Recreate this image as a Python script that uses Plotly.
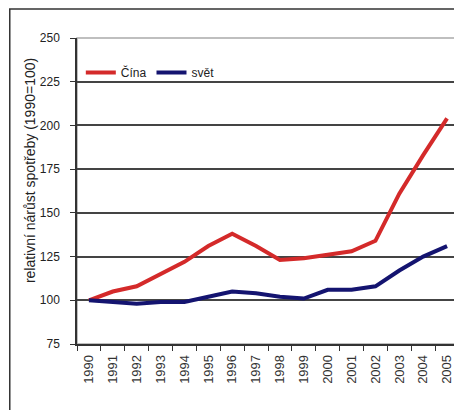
import plotly.graph_objects as go

years = [str(y) for y in range(1990, 2006)]
cina = [100, 105, 108, 115, 122, 131, 138, 131, 123, 124, 126, 128, 134, 161, 183, 204]
svet = [100, 99, 98, 99, 99, 102, 105, 104, 102, 101, 106, 106, 108, 117, 125, 131]
y_ticks = [75, 100, 125, 150, 175, 200, 225, 250]

fig = go.Figure()
fig.add_trace(go.Scatter(x=years, y=cina, mode="lines", name="Čína",
                         line=dict(color="#d42a2a", width=4)))
fig.add_trace(go.Scatter(x=years, y=svet, mode="lines", name="svět",
                         line=dict(color="#141470", width=4)))

font = "Liberation Sans, Arial, sans-serif"
# page body has an 8px margin: figure is shifted by 8px right and down
fig.update_layout(
    width=454, height=402,
    margin=dict(l=69, r=3, t=30, b=66),
    paper_bgcolor="white", plot_bgcolor="white",
    font=dict(family=font, size=11, color="#222"),
    showlegend=True,
    legend=dict(orientation="h", x=0.01, y=0.935, xanchor="left", yanchor="top",
                bgcolor="rgba(0,0,0,0)", font=dict(size=12, color="#222"),
                itemwidth=30, tracegroupgap=0),
    xaxis=dict(type="category", tickson="boundaries", ticks="outside", ticklen=5,
               tickcolor="#333", showline=True, linecolor="#333", linewidth=1.5,
               showgrid=False, tickangle=-90, tickfont=dict(size=13, color="#333"),
               ticklabelstandoff=4,
               range=[-0.5, 15.5], fixedrange=True),
    yaxis=dict(range=[75, 250], tickvals=y_ticks, ticks="outside", ticklen=5,
               tickcolor="#333", showline=True, linecolor="#333", linewidth=1.5,
               showgrid=True, gridcolor="#444", gridwidth=1.5, zeroline=False,
               tickfont=dict(size=12, color="#222"), ticklabelstandoff=8),
    annotations=[
        dict(text="relativní nárůst spotřeby (1990=100)", xref="paper", yref="paper",
             x=-0.123, y=0.565, xanchor="center", yanchor="middle", textangle=-90,
             showarrow=False, font=dict(size=14, color="#222")),
    ],
    shapes=[
        dict(type="rect", xref="paper", yref="paper", x0=0, x1=1, y0=0, y1=1,
             line=dict(color="#aaaaaa", width=1.5), layer="below"),
        dict(type="rect", xref="paper", yref="paper", x0=-0.176, x1=1.05,
             y0=-0.3, y1=1.095, line=dict(color="#333", width=1.5)),
    ],
)

fig.write_html("out.html")
